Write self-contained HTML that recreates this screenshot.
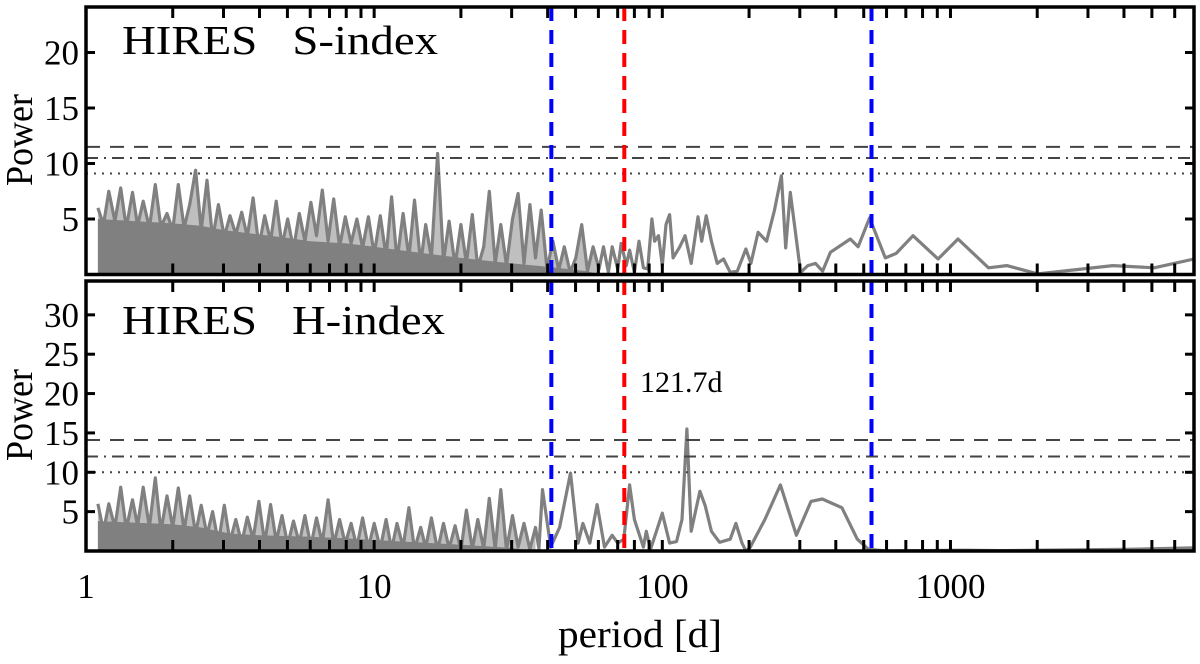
<!DOCTYPE html>
<html><head><meta charset="utf-8"><style>
html,body{margin:0;padding:0;background:#fff}
svg{display:block}
text{font-family:"Liberation Serif",serif;fill:#000}
</style></head><body>
<svg id="chart" width="1200" height="664" viewBox="0 0 1200 664" xmlns="http://www.w3.org/2000/svg">
<defs>
<clipPath id="clipTop"><rect x="86" y="7" width="1108" height="267"/></clipPath>
<clipPath id="clipBot"><rect x="86" y="281" width="1108" height="270"/></clipPath>
</defs>
<g id="top"></g>
<g id="bot"></g>
<g id="overlay"></g>
<text x="640" y="647" font-size="39" text-anchor="middle" textLength="164" lengthAdjust="spacingAndGlyphs">period [d]</text>
<text transform="translate(32,140) rotate(-90)" font-size="38" text-anchor="middle" textLength="92" lengthAdjust="spacingAndGlyphs">Power</text>
<text transform="translate(32,415) rotate(-90)" font-size="38" text-anchor="middle" textLength="92" lengthAdjust="spacingAndGlyphs">Power</text>
<text x="122" y="54" font-size="41" textLength="316" lengthAdjust="spacingAndGlyphs">HIRES&#160;&#160;&#160;S-index</text>
<text x="122" y="334" font-size="41" textLength="323" lengthAdjust="spacingAndGlyphs">HIRES&#160;&#160;&#160;H-index</text>
<text x="640" y="392" font-size="30">121.7d</text>
</svg>
<script>
const basePeriods=[1.10,1.15,1.20,1.26,1.32,1.38,1.45,1.51,1.58,1.66,1.74,1.82,1.91,2.00,2.09,2.19,2.29,2.40,2.51,2.63,2.75,2.88,3.02,3.16,3.31,3.47,3.63,3.80,3.98,4.17,4.37,4.57,4.79,5.01,5.25,5.50,5.75,6.03,6.31,6.61,6.92,7.24,7.59,7.94,8.32,8.71,9.12,9.55,10.0,10.5,11.0,11.5,12.0,12.6,13.2,13.8,14.5,15.1,15.8,16.6,17.4,18.2,19.1,20.0,20.9,21.9,22.9,24.0,25.1,26.3,27.5,28.8,30.2,31.6,33.1,34.7,36.3,38.0,39.8,41.7,43.7,45.7,47.9,50.1,52.5,55.0,57.5,60.3];
const sPowers=[6.0,4.5,7.5,4.8,7.8,4.2,7.4,4.4,6.6,4.2,8.1,4.3,5.5,4.0,8.1,4.2,6.3,9.4,4.0,8.5,3.2,6.3,3.4,5.3,3.6,5.6,3.4,6.9,2.5,5.3,3.0,6.6,2.6,5.0,2.3,5.5,3.0,6.5,3.5,7.6,3.0,6.8,2.5,5.2,2.8,5.0,2.4,5.2,1.8,5.3,1.6,7.0,1.2,5.5,1.5,6.7,1.0,4.5,1.5,10.9,1.2,4.8,0.8,4.5,1.0,5.4,0.6,2.5,7.5,1.0,4.5,0.8,5.0,7.3,1.0,6.3,1.5,5.8,0.5,3.0,0.4,2.5,0.2,1.5,4.5,0.3,2.5,0.5];
const sFloorPeriods=[1.10,1.5,2.0,2.5,3.0,4.0,5.0,6.0,8.0,10.0,14.0,20.0,30.0,40.0,55.0,60.0];
const sFloorPowers=[5.0,4.8,4.6,4.4,4.0,3.6,3.3,3.0,2.8,2.5,2.0,1.5,1.0,0.7,0.3,0];
const sTailPeriods=[62.5,65,67,70,72,75,77,80,83,86,89,92,94,97,100,103,106,109,115,120,126,133,137,142,148,155,163,172,182,195,203,215,230,245,259,268,278,302,320,340,360,383,449,478,524,594,648,741,906,1062,1355,1568,2013,3662,5088,7000];
const sTailPowers=[2.5,0.2,2.5,0.5,2.8,0.8,2.2,0.2,3.0,0.6,0.5,5.0,3.0,3.5,0.8,4.5,5.4,1.5,2.5,3.5,1.0,5.2,3.0,5.3,3.0,1.0,1.4,0.2,0.3,2.3,1.0,3.8,3.0,5.8,8.9,2.4,7.4,0.2,0.8,1.0,0.3,2.0,3.2,2.5,5.1,1.5,1.9,3.5,1.4,3.2,0.6,0.8,0.05,0.8,0.6,1.4];
const hPowers=[6.0,2.5,6.0,3.0,8.1,2.8,6.5,3.2,8.1,3.0,9.3,2.5,7.0,3.0,8.0,2.6,7.0,2.2,5.8,2.0,5.0,1.0,5.8,1.2,4.0,1.0,4.3,1.5,6.3,1.0,5.9,1.2,4.5,0.8,3.8,1.0,4.5,0.6,4.2,1.0,6.5,0.8,4.0,0.9,3.5,0.5,4.2,0.4,3.5,0.3,4.0,0.2,3.5,0.5,5.5,0.2,3.0,0.4,4.2,0.1,3.5,0.3,3.2,0.1,5.2,0.2,4.0,0.3,6.7,0.2,7.8,0.1,4.5,0.5,3.5,0.2,3.0];
const hFloorPeriods=[1.10,1.5,2.0,2.5,2.8,3.2,4.0,6.0,8.0,10.0,14.0,20.0,30.0,36.0];
const hFloorPowers=[3.8,3.6,3.4,3.0,2.6,2.2,2.0,1.8,1.6,1.4,1.1,0.8,0.4,0];
const hTailPeriods=[37.3,38.4,41,44,48,51,53,56,59.4,63,67,70,73.5,77,80,86,88,91,100,106,112,117,121.7,126,135,141,148,158,172,180,189,195,202,227,257,292,328,359,420,475,520,600,1100,1500,2000,4000,7000];
const hTailPowers=[0.3,7.8,0.5,3.0,9.9,1.0,3.5,1.0,5.9,0.5,2.0,1.0,1.5,8.4,4.0,0.5,2.5,0.2,4.8,1.0,1.2,4.0,15.5,2.5,7.6,5.7,2.5,1.1,1.5,3.5,1.0,0,0.5,4.0,8.4,2.0,6.3,6.6,5.5,1.5,0.2,0,0.1,0.05,0.1,0.2,0.4];
const sThresholds=[11.5,10.5,9.1];
const hThresholds=[14.1,12.0,10.0];
const markerPeriods=[41.2,73.8,532];
const markerColors=['#0000ff','#ff0000','#0000ff'];
const xTickValues=[1,10,100,1000];
const xTickLabels=['1','10','100','1000'];
const sYTicks=[5,10,15,20];
const hYTicks=[5,10,15,20,25,30];

const NS='http://www.w3.org/2000/svg';
const X0=86,X1=1194,LMIN=0,LMAX=Math.log10(7000);
function xs(p){return X0+(Math.log10(p)-LMIN)/(LMAX-LMIN)*(X1-X0);}
function mk(tag,attrs,parent){const e=document.createElementNS(NS,tag);for(const k in attrs)e.setAttribute(k,attrs[k]);parent.appendChild(e);return e;}

function panel(g,top,bottom,ymax,periods,powers,nDense,fPer,fPow,thresholds,yticks,clip,name){
  const ys=v=>bottom-v/ymax*(bottom-top);
  const gs=mk('g',{'clip-path':'url(#'+clip+')'},g);
  // translucent area under the dense part of the curve
  let ad='M'+xs(periods[0]).toFixed(1)+','+bottom;
  for(let i=0;i<nDense;i++){ad+='L'+xs(periods[i]).toFixed(1)+','+ys(powers[i]).toFixed(1);}
  ad+='L'+xs(periods[nDense-1]).toFixed(1)+','+bottom+'Z';
  const area=mk('path',{d:ad,fill:'#808080','fill-opacity':0.5,stroke:'none'},gs);
  
  
  let fd='M'+xs(fPer[0]).toFixed(1)+','+bottom;
  fPer.forEach((p,i)=>{fd+='L'+xs(p).toFixed(1)+','+ys(fPow[i]).toFixed(1);});
  fd+='L'+xs(fPer[fPer.length-1]).toFixed(1)+','+bottom+'Z';
  const fill=mk('path',{d:fd,fill:'#808080',stroke:'none'},gs);
  
  
  let d='';
  periods.forEach((p,i)=>{d+=(i?'L':'M')+xs(p).toFixed(1)+','+ys(powers[i]).toFixed(1);});
  const path=mk('path',{d:d,fill:'none',stroke:'#808080','stroke-width':3.2,'stroke-linejoin':'round'},gs);
  
  
  const dashes=['14,10','12,6,2,6','2,6'];
  const tnames=['fap-0.1-line','fap-1-line','fap-10-line'];
  thresholds.forEach((t,i)=>{
    const l=mk('line',{x1:X0,x2:X1,y1:ys(t),y2:ys(t),stroke:'#444','stroke-width':2,'stroke-dasharray':dashes[i]},g);
    
    
  });
  for(let dec=0;dec<4;dec++){for(let m=1;m<10;m++){const p=m*Math.pow(10,dec);if(p>7000||p===1)continue;const x=xs(p);
    const t1=mk('line',{x1:x,x2:x,y1:bottom,y2:bottom-11,stroke:'#000','stroke-width':3},g);
    
    
    const t2=mk('line',{x1:x,x2:x,y1:top,y2:top+11,stroke:'#000','stroke-width':3},g);
    
    
  }}
  yticks.forEach(v=>{const y=ys(v);
    const a=mk('line',{x1:X0,x2:X0+9,y1:y,y2:y,stroke:'#000','stroke-width':3},g);
    
    
    const b=mk('line',{x1:X1,x2:X1-9,y1:y,y2:y,stroke:'#000','stroke-width':3},g);
    
    
    const tx=mk('text',{x:X0-7,y:y+12,'font-size':35,'text-anchor':'end'},g);
    tx.textContent=String(v);
    
    
  });
  markerPeriods.forEach((p,i)=>{const x=xs(p);
    const l=mk('line',{x1:x,x2:x,y1:top,y2:bottom,stroke:markerColors[i],'stroke-width':4,'stroke-dasharray':'14,9'},g);
    
    
  });
  const fr=mk('rect',{x:X0,y:top,width:X1-X0,height:bottom-top,fill:'none',stroke:'#000','stroke-width':3.5},g);
  
  
}
const sPer=basePeriods.slice(0,sPowers.length).concat(sTailPeriods);
const sPow=sPowers.concat(sTailPowers);
const hPer=basePeriods.slice(0,hPowers.length).concat(hTailPeriods);
const hPow=hPowers.concat(hTailPowers);
panel(document.getElementById('top'),7,274.5,24.1,sPer,sPow,sPowers.length,sFloorPeriods,sFloorPowers,sThresholds,sYTicks,'clipTop','s-index');
panel(document.getElementById('bot'),281,551,34.3,hPer,hPow,hPowers.length,hFloorPeriods,hFloorPowers,hThresholds,hYTicks,'clipBot','h-index');
const ov=document.getElementById('overlay');
xTickValues.forEach((v,i)=>{
  const t=mk('text',{x:xs(v),y:598,'font-size':35,'text-anchor':'middle'},ov);
  t.textContent=xTickLabels[i];
  
  
});
</script>
</body></html>
